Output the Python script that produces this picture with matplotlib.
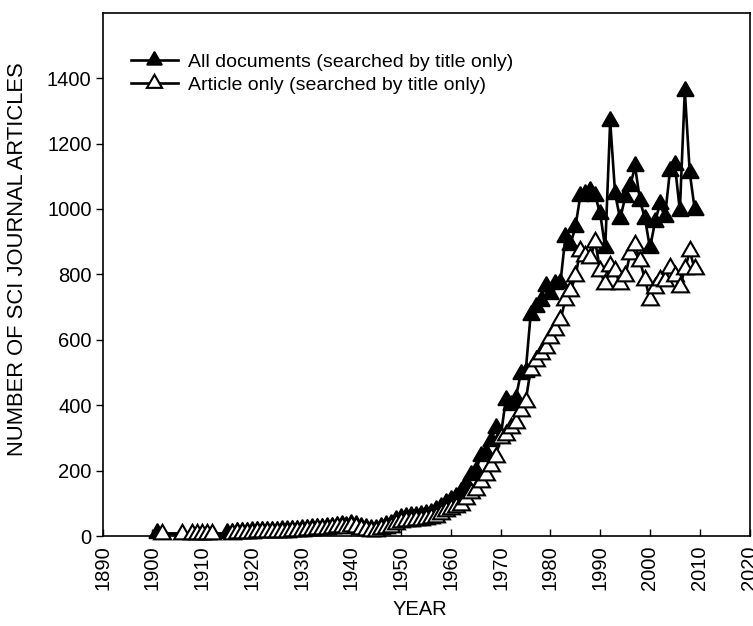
'''
number of SCI journal articles per year, all documents vs articles only
'''
import matplotlib
matplotlib.use("Agg")
import matplotlib.pyplot as plt

plt.rcParams['font.family'] = ['Liberation Sans', 'DejaVu Sans']

#---all documents (searched by title only)
years_all = [1901] + list(range(1915, 2010))
all_docs = [
    8,
    8, 10, 12, 12, 13, 14, 14, 15, 15, 16,           # 1915-1924
    16, 17, 17, 18, 18, 20, 22, 24, 25, 25,          # 1925-1934
    27, 28, 32, 34, 30, 36, 33, 26, 24, 22,          # 1935-1944
    22, 28, 33, 38, 48, 55, 58, 60, 62, 64,          # 1945-1954
    66, 70, 78, 90, 100, 110, 120, 135, 160, 185,    # 1955-1964
    200, 245, 255, 290, 330, 305, 415, 400, 420, 495,  # 1965-1974
    500, 675, 700, 720, 765, 740, 770, 775, 915, 890,  # 1975-1984
    945, 1040, 1045, 1055, 1040, 985, 880, 1268, 1045, 970,  # 1985-1994
    1035, 1070, 1130, 1025, 970, 880, 960, 1015, 975, 1115,  # 1995-2004
    1135, 995, 1362, 1110, 998,                      # 2005-2009
]

#---article only (searched by title only)
years_art = [1902, 1906, 1908, 1909, 1910, 1911, 1912] + list(range(1916, 2010))
articles = [
    6, 5, 5, 5, 5, 5, 5,
    6, 8, 9, 10, 10, 11, 11, 12, 12,                 # 1916-1924
    13, 13, 13, 14, 14, 16, 17, 19, 20, 20,          # 1925-1934
    22, 23, 27, 28, 25, 30, 27, 20, 18, 16,          # 1935-1944
    16, 20, 24, 28, 36, 42, 45, 46, 48, 50,          # 1945-1954
    52, 55, 58, 68, 75, 82, 88, 95, 112, 130,        # 1955-1964
    140, 165, 185, 215, 243, 299, 310, 330, 345, 381,  # 1965-1974
    411, 508, 534, 555, 575, 605, 631, 661, 723, 748,  # 1975-1984
    794, 871, 855, 851, 900, 810, 769, 825, 810, 769,  # 1985-1994
    794, 861, 891, 840, 784, 723, 759, 784, 779, 820,  # 1995-2004
    794, 762, 815, 871, 815,                         # 2005-2009
]

fig = plt.figure(figsize=(7.53, 6.26), dpi=100)
ax = fig.add_axes([102.7 / 753, 1 - 536 / 626, (749.5 - 102.7) / 753, (536 - 12.7) / 626])

tri = (3, 0, 0)
ax.plot(years_all, all_docs, color='black', lw=1.9, marker=tri, ms=14,
        mfc='black', mec='black', mew=1.2, label='All documents (searched by title only)',
        zorder=3, clip_on=False)
ax.plot(years_art, articles, color='black', lw=1.9, marker=tri, ms=14,
        mfc='white', mec='black', mew=1.5, label='Article only (searched by title only)',
        zorder=4, clip_on=False)

ax.set_xlim(1890, 2020)
ax.set_ylim(0, 1600)
ax.set_xticks(range(1890, 2021, 10))
ax.set_yticks(range(0, 1401, 200))
ax.tick_params(axis='x', direction='in', length=5, width=1, labelsize=14.5, pad=6.5,
               labelrotation=90)
ax.tick_params(axis='y', direction='out', length=5, width=1, labelsize=14.5, pad=3)
for s in ax.spines.values():
    s.set_linewidth(1.2)

ax.set_xlabel("YEAR", fontsize=14.5)
ax.xaxis.set_label_coords(0.49, -0.122)
ax.set_ylabel("NUMBER OF SCI JOURNAL ARTICLES", fontsize=15.8)
ax.yaxis.set_label_coords(-0.115, 0.53)

ax.legend(loc='upper left', bbox_to_anchor=(0.044, 0.922), frameon=False, fontsize=14,
          handlelength=2.4, handletextpad=0.5, labelspacing=0.25, borderpad=0,
          borderaxespad=0, markerscale=0.9)

fig.savefig("out.png", dpi=100)
